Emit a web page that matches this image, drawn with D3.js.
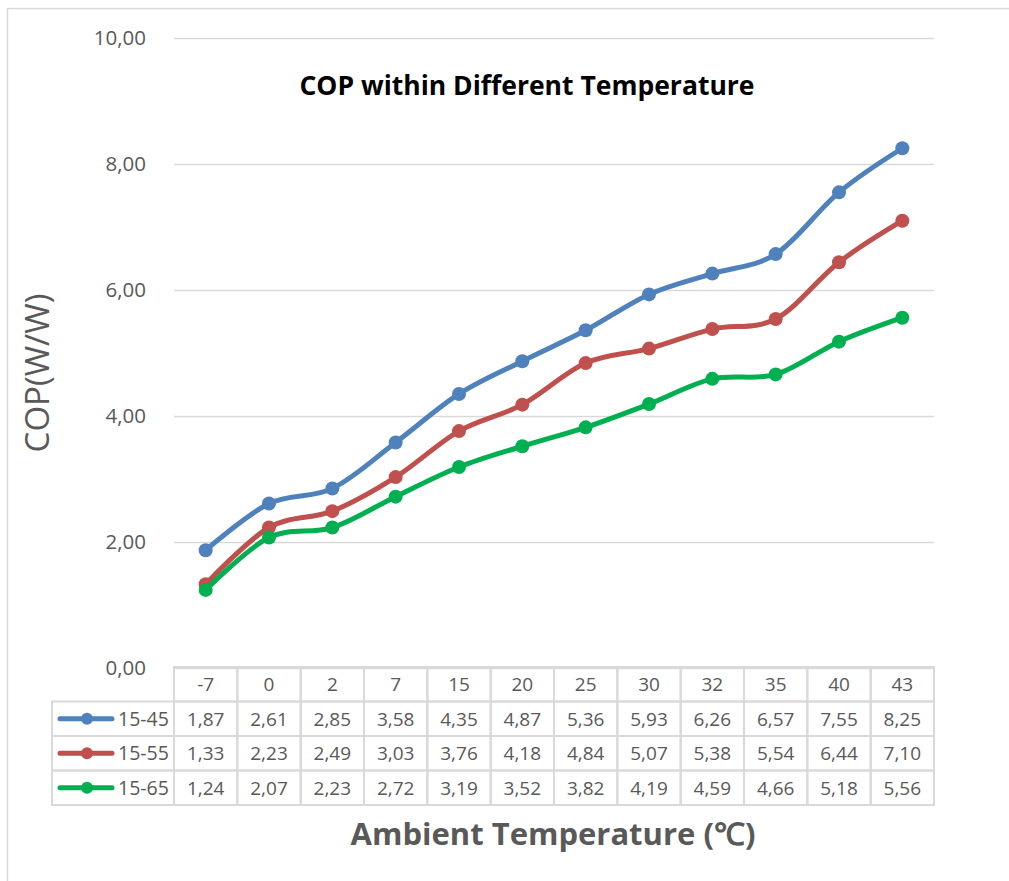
<!DOCTYPE html>
<html>
<head>
<meta charset="UTF-8">
<title>COP within Different Temperature</title>
<script src="https://d3js.org/d3.v7.min.js"></script>
<style>
    body { margin: 0; background: #fff; }
    svg { display: block; font-family: "Open Sans", sans-serif; }
</style>
</head>
<body>
<svg id="chart" width="1009" height="881"></svg>
<script>
    // data
    const temps = ["-7", "0", "2", "7", "15", "20", "25", "30", "32", "35", "40", "43"];
    const seriesNames = ["15-45", "15-55", "15-65"];
    const cop45 = [1.87, 2.61, 2.85, 3.58, 4.35, 4.87, 5.36, 5.93, 6.26, 6.57, 7.55, 8.25];
    const cop55 = [1.33, 2.23, 2.49, 3.03, 3.76, 4.18, 4.84, 5.07, 5.38, 5.54, 6.44, 7.10];
    const cop65 = [1.24, 2.07, 2.23, 2.72, 3.19, 3.52, 3.82, 4.19, 4.59, 4.66, 5.18, 5.56];
    const colors = ["#4f81bd", "#c0504d", "#00b050"];
    const yTicks = [0, 2, 4, 6, 8, 10];

    const series = [cop45, cop55, cop65];
    const fmt = v => v.toFixed(2).replace(".", ",");

    const svg = d3.select("#chart");
    const plotLeft = 174, plotRight = 934, plotTop = 38, plotBottom = 668;
    const rowH = 34.5, legendLeft = 52;
    const textColor = "#595959";

    // chart frame
    svg.append("rect")
        .attr("x", 7.5).attr("y", 8.5)
        .attr("width", 1010).attr("height", 880)
        .attr("fill", "none").attr("stroke", "#d9d9d9").attr("stroke-width", 1.5);

    const x = d3.scaleBand().domain(temps).range([plotLeft, plotRight]);
    const y = d3.scaleLinear().domain([0, 10]).range([plotBottom, plotTop]);

    // gridlines + y labels
    const yAxis = svg.append("g")
        .attr("transform", `translate(${plotLeft},0)`)
        .call(d3.axisLeft(y).tickValues(yTicks).tickSize(-(plotRight - plotLeft)).tickFormat(fmt).tickPadding(28));
    yAxis.select(".domain").remove();
    yAxis.attr("font-family", null).attr("font-size", null);
    yAxis.selectAll(".tick line").attr("stroke", "#d9d9d9").attr("stroke-width", 1.5);
    yAxis.selectAll(".tick text")
        .attr("fill", textColor).style("font-size", "20.5px");

    // title
    svg.append("text")
        .attr("x", 527).attr("y", 95)
        .attr("text-anchor", "middle")
        .style("font-size", "26.5px").style("font-weight", "bold")
        .attr("fill", "#000")
        .text("COP within Different Temperature");

    // y title
    svg.append("text")
        .attr("transform", "translate(49,373) rotate(-90)")
        .attr("text-anchor", "middle")
        .style("font-size", "33px")
        .attr("fill", textColor)
        .text("COP(W/W)");

    // x title
    svg.append("text")
        .attr("x", 553).attr("y", 845)
        .attr("text-anchor", "middle")
        .style("font-size", "31px").style("font-weight", "bold")
        .attr("fill", textColor)
        .text("Ambient Temperature (℃)");

    // lines
    const line = d3.line()
        .x((d, i) => x(temps[i]) + x.bandwidth() / 2)
        .y(d => y(d))
        .curve(d3.curveCardinal.tension(0));

    series.forEach((vals, s) => {
        const g = svg.append("g");
        g.append("path")
            .attr("d", line(vals))
            .attr("fill", "none")
            .attr("stroke", colors[s])
            .attr("stroke-width", 5)
            .attr("stroke-linejoin", "round")
            .attr("stroke-linecap", "round");
        g.selectAll("circle").data(vals).join("circle")
            .attr("cx", (d, i) => x(temps[i]) + x.bandwidth() / 2)
            .attr("cy", d => y(d))
            .attr("r", 7)
            .attr("fill", colors[s]);
    });

    // data table
    const table = svg.append("g");
    const gridColor = "#d9d9d9";
    const tTop = plotBottom - 1;

    // header row
    temps.forEach(t => {
        table.append("rect")
            .attr("x", x(t)).attr("y", tTop)
            .attr("width", x.bandwidth()).attr("height", rowH)
            .attr("fill", "none").attr("stroke", gridColor).attr("stroke-width", 2);
        table.append("text")
            .attr("x", x(t) + x.bandwidth() / 2).attr("y", tTop + rowH / 2 + 7)
            .attr("text-anchor", "middle")
            .style("font-size", "19px").attr("fill", textColor)
            .text(t);
    });

    series.forEach((vals, s) => {
        const ry = tTop + rowH * (s + 1);
        table.append("rect")
            .attr("x", legendLeft).attr("y", ry)
            .attr("width", plotLeft - legendLeft).attr("height", rowH)
            .attr("fill", "none").attr("stroke", gridColor).attr("stroke-width", 2);
        table.append("line")
            .attr("x1", 60).attr("x2", 112)
            .attr("y1", ry + rowH / 2).attr("y2", ry + rowH / 2)
            .attr("stroke", colors[s]).attr("stroke-width", 5)
            .attr("stroke-linecap", "round");
        table.append("circle")
            .attr("cx", 87).attr("cy", ry + rowH / 2).attr("r", 6)
            .attr("fill", colors[s]);
        table.append("text")
            .attr("x", 118).attr("y", ry + rowH / 2 + 7)
            .style("font-size", "19.5px").attr("fill", textColor)
            .text(seriesNames[s]);
        vals.forEach((v, i) => {
            table.append("rect")
                .attr("x", x(temps[i])).attr("y", ry)
                .attr("width", x.bandwidth()).attr("height", rowH)
                .attr("fill", "none").attr("stroke", gridColor).attr("stroke-width", 2);
            table.append("text")
                .attr("x", x(temps[i]) + x.bandwidth() / 2).attr("y", ry + rowH / 2 + 7)
                .attr("text-anchor", "middle")
                .style("font-size", "19px").attr("fill", textColor)
                .text(fmt(v));
        });
    });
</script>
</body>
</html>
